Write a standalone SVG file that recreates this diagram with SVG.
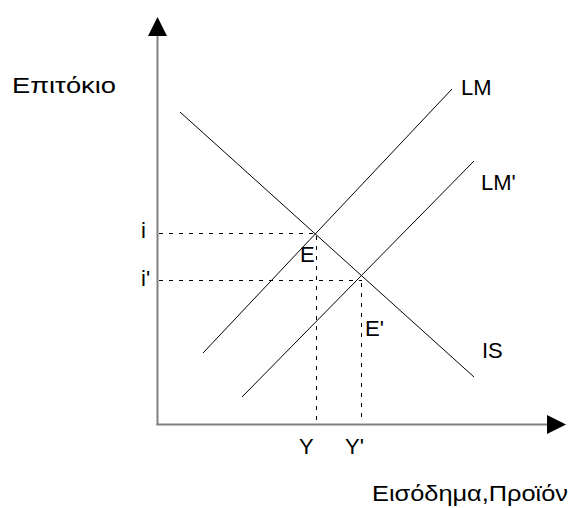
<svg xmlns="http://www.w3.org/2000/svg" width="571" height="508" viewBox="0 0 571 508">
<style>
.t{font-family:"Liberation Sans",Arial,sans-serif;font-size:22px;fill:#000}
.axis{stroke:#808080;stroke-width:2;fill:none}
.curve{stroke:#000;stroke-width:1;fill:none}
.dash{stroke:#000;stroke-width:1;stroke-dasharray:4 6;fill:none}
</style>
<rect width="571" height="508" fill="#fff"/>
<g id="axes">
<line class="axis" x1="157.5" y1="425" x2="157.5" y2="36"/>
<polygon points="157.5,17 148,36 167,36" fill="#000"/>
<line class="axis" x1="156.5" y1="424.5" x2="547" y2="424.5"/>
<polygon points="566,424.5 547,415 547,434" fill="#000"/>
</g>
<g id="connectors">
<line class="dash" x1="159" y1="233.5" x2="315" y2="233.5"/>
<line class="dash" x1="159" y1="280.5" x2="362" y2="280.5"/>
<line class="dash" x1="316.5" y1="236" x2="316.5" y2="423"/>
<line class="dash" x1="361.5" y1="283" x2="361.5" y2="423"/>
</g>
<g id="IS"><line class="curve" x1="180" y1="112" x2="474" y2="377"/><text class="t" x="482" y="358">IS</text></g>
<g id="LM"><line class="curve" x1="203" y1="353" x2="452" y2="89"/><text class="t" x="461" y="95">LM</text></g>
<g id="LMp"><line class="curve" x1="242" y1="397" x2="474" y2="161"/><text class="t" x="481" y="190">LM'</text></g>
<g id="E"><text class="t" x="300" y="262">E</text></g>
<g id="Ep"><text class="t" x="365" y="336">E'</text></g>
<g id="labels">
<text class="t" x="12" y="93" textLength="104" lengthAdjust="spacingAndGlyphs">Επιτόκιο</text>
<text class="t" x="372" y="501" textLength="196" lengthAdjust="spacingAndGlyphs">Εισόδημα,Προϊόν</text>
<text class="t" x="141" y="238">i</text>
<text class="t" x="141" y="286">i'</text>
<text class="t" x="299" y="454">Y</text>
<text class="t" x="345" y="454">Y'</text>
</g>
</svg>
